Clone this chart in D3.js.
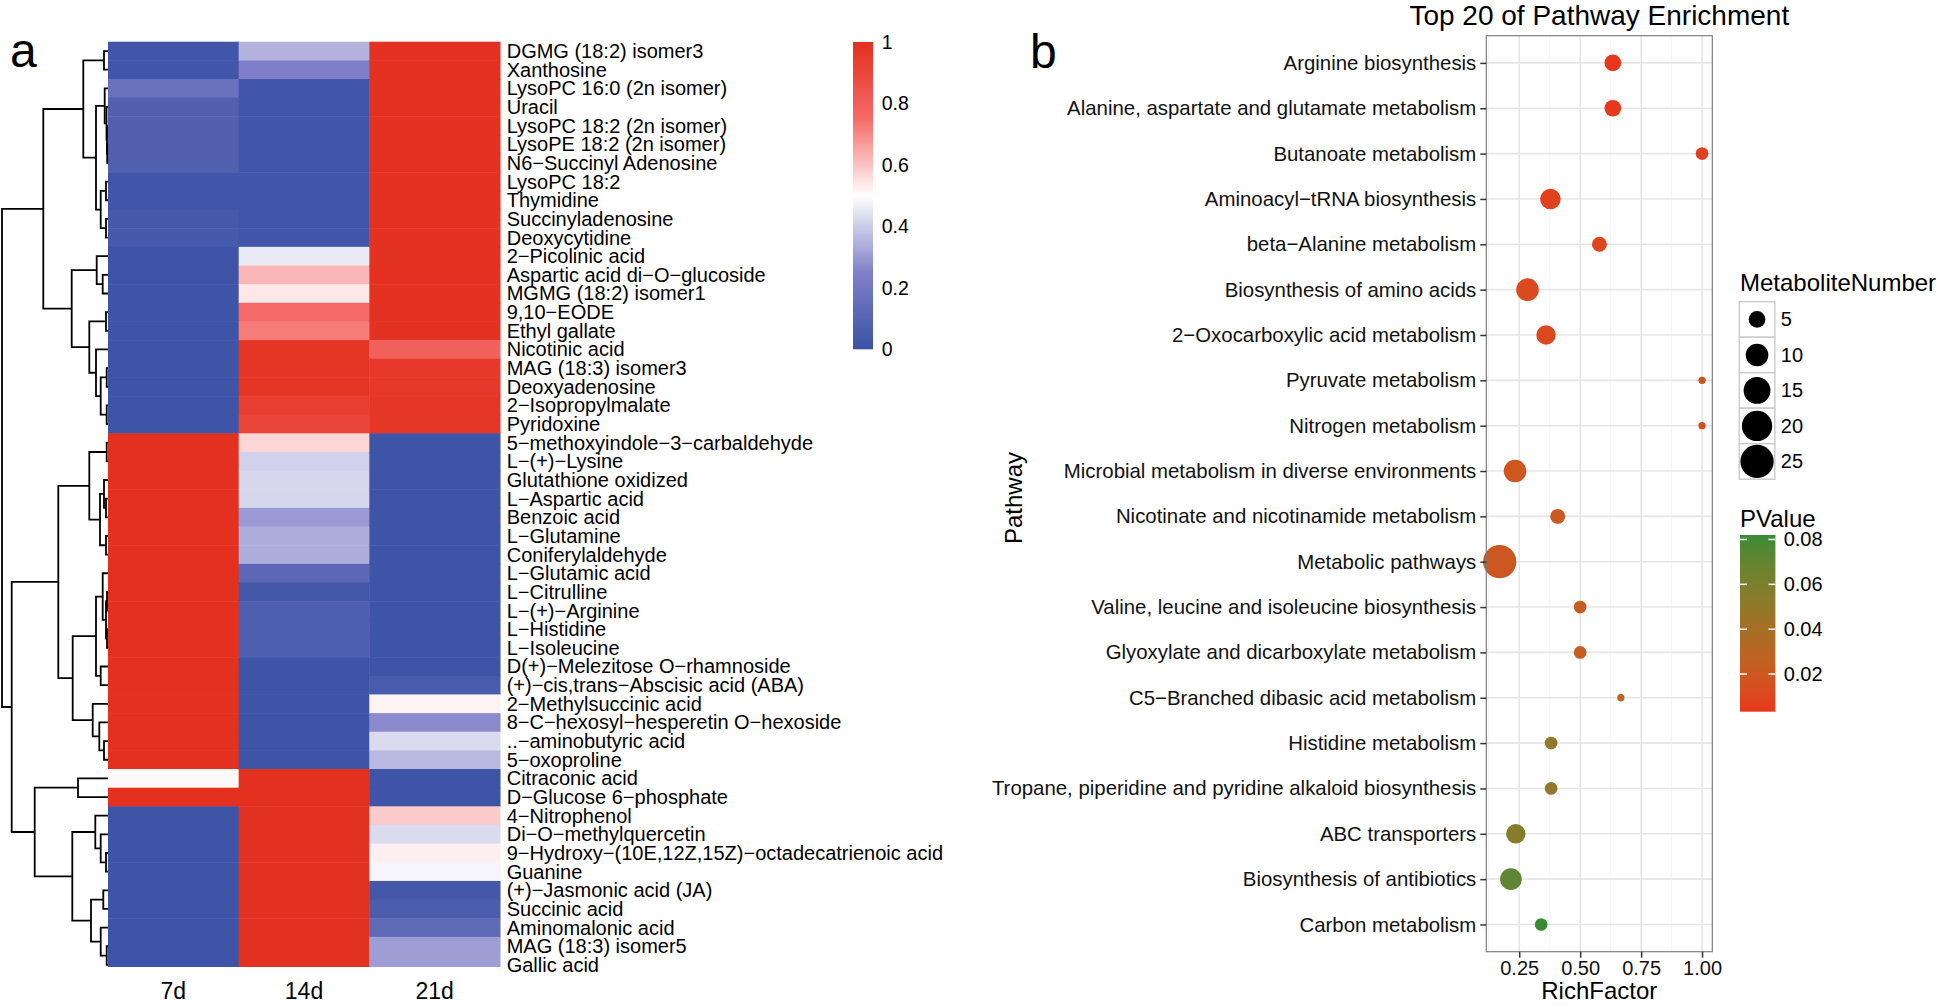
<!DOCTYPE html>
<html>
<head>
<meta charset="utf-8">
<script src="https://cdn.jsdelivr.net/npm/d3@7"></script>
<style>
    body { margin: 0; background: #fff; }
    svg { display: block; font-family: "Liberation Sans", Arial, sans-serif; }
</style>
</head>
<body>
<div id="chart"></div>
<script>

// ---- panel a : heatmap ----
const samples = ["7d", "14d", "21d"];

const metabolites = [
    "DGMG (18:2) isomer3", "Xanthosine", "LysoPC 16:0 (2n isomer)", "Uracil",
    "LysoPC 18:2 (2n isomer)", "LysoPE 18:2 (2n isomer)", "N6−Succinyl Adenosine",
    "LysoPC 18:2", "Thymidine", "Succinyladenosine", "Deoxycytidine",
    "2−Picolinic acid", "Aspartic acid di−O−glucoside", "MGMG (18:2) isomer1",
    "9,10−EODE", "Ethyl gallate", "Nicotinic acid", "MAG (18:3) isomer3",
    "Deoxyadenosine", "2−Isopropylmalate", "Pyridoxine",
    "5−methoxyindole−3−carbaldehyde", "L−(+)−Lysine", "Glutathione oxidized",
    "L−Aspartic acid", "Benzoic acid", "L−Glutamine", "Coniferylaldehyde",
    "L−Glutamic acid", "L−Citrulline", "L−(+)−Arginine", "L−Histidine",
    "L−Isoleucine", "D(+)−Melezitose O−rhamnoside", "(+)−cis,trans−Abscisic acid (ABA)",
    "2−Methylsuccinic acid", "8−C−hexosyl−hesperetin O−hexoside", "..−aminobutyric acid",
    "5−oxoproline", "Citraconic acid", "D−Glucose 6−phosphate", "4−Nitrophenol",
    "Di−O−methylquercetin", "9−Hydroxy−(10E,12Z,15Z)−octadecatrienoic acid", "Guanine",
    "(+)−Jasmonic acid (JA)", "Succinic acid", "Aminomalonic acid", "MAG (18:3) isomer5",
    "Gallic acid"
];

// scaled abundance (0-1), one array per sampling day, same order as metabolites
const values7d = [
    0.02, 0.02, 0.17, 0.08, 0.08, 0.08, 0.08, 0.02, 0.02, 0.04,
    0.04, 0.01, 0.01, 0.01, 0.01, 0.01, 0.01, 0.01, 0.01, 0.01,
    0.01, 1, 1, 1, 1, 1, 1, 1, 1, 1,
    1, 1, 1, 1, 1, 1, 1, 1, 1, 0.51,
    1, 0.01, 0.01, 0.01, 0.01, 0.01, 0.01, 0.01, 0.01, 0.01
];
const values14d = [
    0.35, 0.24, 0.02, 0.02, 0.02, 0.02, 0.02, 0.02, 0.02, 0.02,
    0.02, 0.46, 0.62, 0.54, 0.75, 0.72, 0.98, 0.98, 0.98, 0.94,
    0.91, 0.57, 0.41, 0.42, 0.42, 0.30, 0.34, 0.34, 0.12, 0.03,
    0.07, 0.07, 0.07, 0.01, 0.01, 0.01, 0.01, 0.01, 0.01, 1,
    1, 0.99, 0.99, 0.99, 0.99, 0.99, 0.99, 0.99, 0.99, 0.99
];
const values21d = [
    0.99, 0.99, 0.99, 0.99, 0.99, 0.99, 0.99, 0.99, 0.99, 0.99,
    0.99, 0.99, 0.99, 0.99, 0.99, 0.99, 0.79, 0.96, 0.96, 0.97,
    0.97, 0.01, 0.01, 0.01, 0.01, 0.01, 0.01, 0.01, 0.01, 0.01,
    0.01, 0.01, 0.01, 0.01, 0.05, 0.52, 0.27, 0.43, 0.36, 0.01,
    0.01, 0.585, 0.43, 0.525, 0.48, 0.03, 0.06, 0.13, 0.31, 0.31
];

// row dendrogram: [height, left, right], leaves are row indices
const rowTree =
    [106,
        [64.7,
            [24.7, [4, 0, 1],
                [12, [3.3, 2, [1.5, 3, [1, 4, [0.8, 5, 6]]]],
                    [7.3, [2, 7, 8], [2, 9, 10]]]],
            [36.3, [11.3, 11, [5.3, 12, 13]],
                [18.7, [2, 14, 15], [12, 16, [7.3, [1.3, 17, 18], [1.3, 19, 20]]]]]],
        [96.3,
            [49.7,
                [18.7, [1.3, 21, 22], [8, [4, 23, [2, 24, 25]], [2, 26, 27]]],
                [35.3,
                    [12, [5.3, 28, [2, [1, 29, 30], [1, 31, 32]]], [7.3, 33, 34]],
                    [15.3, 35, [8.7, 36, [4, 37, 38]]]]],
            [73.3, [30, 39, 40],
                [35.7, [12.7, 41, [7.3, 42, [2, 43, 44]]],
                    [17, [4.7, 45, 46], [7.3, 47, [1.3, 48, 49]]]]]]];

const heatLegendTicks = [0, 0.2, 0.4, 0.6, 0.8, 1];

// ---- panel b : pathway enrichment ----
const pathways = [
    "Arginine biosynthesis", "Alanine, aspartate and glutamate metabolism",
    "Butanoate metabolism", "Aminoacyl−tRNA biosynthesis", "beta−Alanine metabolism",
    "Biosynthesis of amino acids", "2−Oxocarboxylic acid metabolism",
    "Pyruvate metabolism", "Nitrogen metabolism",
    "Microbial metabolism in diverse environments",
    "Nicotinate and nicotinamide metabolism", "Metabolic pathways",
    "Valine, leucine and isoleucine biosynthesis",
    "Glyoxylate and dicarboxylate metabolism", "C5−Branched dibasic acid metabolism",
    "Histidine metabolism", "Tropane, piperidine and pyridine alkaloid biosynthesis",
    "ABC transporters", "Biosynthesis of antibiotics", "Carbon metabolism"
];
const richFactor = [0.634, 0.634, 1.0, 0.378, 0.579, 0.284, 0.36, 1.0, 1.0, 0.233,
    0.408, 0.17, 0.5, 0.5, 0.667, 0.381, 0.381, 0.236, 0.216, 0.34];
const metaboliteNumber = [5, 5, 3, 8, 4, 10, 7, 2, 2, 10, 4, 25, 3, 3, 2, 3, 3, 7, 9, 3];
const pValue = [0.0032, 0.0035, 0.006, 0.007, 0.009, 0.011, 0.011, 0.014, 0.014, 0.018,
    0.02, 0.019, 0.023, 0.023, 0.03, 0.05, 0.05, 0.056, 0.072, 0.082];

const richLimits = [0.115, 1.042];
const richTicks = [0.25, 0.5, 0.75, 1.0];
const richMinor = [0.125, 0.375, 0.625, 0.875];
const sizeLegend = [5, 10, 15, 20, 25];
const pLegendTicks = [0.02, 0.04, 0.06, 0.08];


const width = 1941, height = 1006;

const svg = d3.select("#chart").append("svg")
    .attr("width", width)
    .attr("height", height);

svg.append("rect").attr("width", width).attr("height", height).attr("fill", "#fff");

drawHeatmap();
drawEnrichment();


function drawHeatmap() {

    const g = svg.append("g").attr("class", "panel-a");

    const x = d3.scaleBand().domain(samples).range([108, 500]);
    const y = d3.scaleBand().domain(d3.range(metabolites.length)).range([41.7, 974.2]);

    // blue - white - red ramp
    const color = d3.scaleLinear()
        .domain([0, 0.25, 0.5, 0.75, 1])
        .range(["#3b52a5", "#8080c8", "#ffffff", "#f56a68", "#e3301f"]);

    const columns = [values7d, values14d, values21d];
    const cells = [];
    columns.forEach((col, c) => {
        col.forEach((v, r) => cells.push({ sample: samples[c], row: r, value: v }));
    });

    // the last row of the original figure is cut at the bottom
    svg.append("clipPath").attr("id", "heat-clip")
        .append("rect").attr("x", 100).attr("y", 30).attr("width", 410).attr("height", 937);

    g.append("g")
        .attr("clip-path", "url(#heat-clip)")
        .selectAll("rect")
        .data(cells)
        .enter().append("rect")
        .attr("x", d => x(d.sample))
        .attr("y", d => y(d.row))
        .attr("width", x.bandwidth() + 0.5)
        .attr("height", y.bandwidth() + 0.5)
        .attr("fill", d => color(d.value));

    // row labels
    g.append("g").selectAll("text")
        .data(metabolites)
        .enter().append("text")
        .attr("x", 506.7)
        .attr("y", (d, i) => y(i) + y.bandwidth() / 2)
        .attr("dy", "0.35em")
        .attr("font-size", 20)
        .attr("fill", "#000")
        .text(d => d);

    // column labels
    g.append("g").selectAll("text")
        .data(samples)
        .enter().append("text")
        .attr("x", d => x(d) + x.bandwidth() / 2)
        .attr("y", 999)
        .attr("text-anchor", "middle")
        .attr("font-size", 23)
        .text(d => d);

    // dendrogram
    const hx = d3.scaleLinear().domain([0, 106]).range([108, 2]);
    const paths = [];

    function layout(node) {
        if (typeof node === "number") {
            return { y: y(node) + y.bandwidth() / 2, h: 0 };
        }
        const a = layout(node[1]);
        const b = layout(node[2]);
        const xn = hx(node[0]);
        paths.push(`M${hx(a.h)},${a.y}H${xn}V${b.y}H${hx(b.h)}`);
        return { y: (a.y + b.y) / 2, h: node[0] };
    }
    layout(rowTree);

    g.append("g").selectAll("path")
        .data(paths)
        .enter().append("path")
        .attr("d", d => d)
        .attr("fill", "none")
        .attr("stroke", "#000")
        .attr("stroke-width", 1.8);

    // colour legend
    const ly = d3.scaleLinear().domain([0, 1]).range([349.3, 42]);
    const grad = svg.append("defs").append("linearGradient")
        .attr("id", "heat-grad")
        .attr("x1", 0).attr("y1", 1).attr("x2", 0).attr("y2", 0);
    grad.selectAll("stop")
        .data(d3.range(0, 1.001, 0.05))
        .enter().append("stop")
        .attr("offset", d => d)
        .attr("stop-color", d => color(d));

    g.append("rect")
        .attr("x", 853).attr("y", ly(1))
        .attr("width", 20).attr("height", ly(0) - ly(1))
        .attr("fill", "url(#heat-grad)");

    g.append("g").selectAll("text")
        .data(heatLegendTicks)
        .enter().append("text")
        .attr("x", 881.7)
        .attr("y", d => ly(d))
        .attr("dy", "0.35em")
        .attr("font-size", 19.5)
        .text(d => d);

    g.append("text")
        .attr("x", 10).attr("y", 66.7)
        .attr("font-size", 48)
        .text("a");
}


function drawEnrichment() {

    const g = svg.append("g").attr("class", "panel-b");

    const left = 1486.3, right = 1712.3, top = 35.7, bottom = 951.7;

    const x = d3.scaleLinear().domain(richLimits).range([left, right]);
    const y = d3.scalePoint().domain(pathways).range([top, bottom]).padding(0.6);

    const nMin = d3.min(metaboliteNumber), nMax = d3.max(metaboliteNumber);
    const radius = d3.scaleLinear().domain([0, 1]).range([3.65, 16.65]);
    const r = n => radius(Math.sqrt((n - nMin) / (nMax - nMin)));

    const pExtent = d3.extent(pValue);
    const color = d3.scaleLinear()
        .domain(pExtent)
        .range(["#e8371c", "#3a8b37"])
        .interpolate(d3.interpolateLab);

    // grid
    g.append("g").selectAll("line")
        .data(richMinor)
        .enter().append("line")
        .attr("x1", d => x(d)).attr("x2", d => x(d))
        .attr("y1", top).attr("y2", bottom)
        .attr("stroke", "#f2f2f2").attr("stroke-width", 0.8);

    g.append("g").selectAll("line")
        .data(richTicks)
        .enter().append("line")
        .attr("x1", d => x(d)).attr("x2", d => x(d))
        .attr("y1", top).attr("y2", bottom)
        .attr("stroke", "#e6e6e6").attr("stroke-width", 1.6);

    g.append("g").selectAll("line")
        .data(pathways)
        .enter().append("line")
        .attr("x1", left).attr("x2", right)
        .attr("y1", d => y(d)).attr("y2", d => y(d))
        .attr("stroke", "#e6e6e6").attr("stroke-width", 1.6);

    // points
    const points = pathways.map((p, i) => ({
        pathway: p, rich: richFactor[i], n: metaboliteNumber[i], p: pValue[i]
    }));

    g.append("g").selectAll("circle")
        .data(points)
        .enter().append("circle")
        .attr("cx", d => x(d.rich))
        .attr("cy", d => y(d.pathway))
        .attr("r", d => r(d.n))
        .attr("fill", d => color(d.p));

    g.append("rect")
        .attr("x", left).attr("y", top)
        .attr("width", right - left).attr("height", bottom - top)
        .attr("fill", "none")
        .attr("stroke", "#7f7f7f")
        .attr("stroke-width", 1.2);

    // axes
    const yAxis = g.append("g")
        .attr("transform", `translate(${left},0)`)
        .call(d3.axisLeft(y).tickSize(6).tickPadding(4));
    yAxis.select(".domain").remove();
    yAxis.selectAll("line").attr("stroke", "#333").attr("stroke-width", 1.5);
    yAxis.selectAll("text")
        .attr("font-size", 20.4)
        .attr("font-family", "Liberation Sans, Arial, sans-serif")
        .attr("fill", "#111");

    const xAxis = g.append("g")
        .attr("transform", `translate(0,${bottom})`)
        .call(d3.axisBottom(x).tickValues(richTicks).tickFormat(d3.format(".2f")).tickSize(6).tickPadding(3));
    xAxis.select(".domain").remove();
    xAxis.selectAll("line").attr("stroke", "#333").attr("stroke-width", 1.5);
    xAxis.selectAll("text")
        .attr("font-size", 20)
        .attr("font-family", "Liberation Sans, Arial, sans-serif")
        .attr("fill", "#111");

    g.append("text")
        .attr("x", (left + right) / 2).attr("y", 999)
        .attr("text-anchor", "middle")
        .attr("font-size", 24)
        .text("RichFactor");

    g.append("text")
        .attr("transform", "translate(1013.4,498) rotate(-90)")
        .attr("text-anchor", "middle")
        .attr("dy", "0.35em")
        .attr("font-size", 24)
        .text("Pathway");

    g.append("text")
        .attr("x", (left + right) / 2).attr("y", 25)
        .attr("text-anchor", "middle")
        .attr("font-size", 28)
        .text("Top 20 of Pathway Enrichment");

    g.append("text")
        .attr("x", 1030).attr("y", 68)
        .attr("font-size", 48)
        .text("b");

    // size legend
    const lx = 1739.3, key = 35.5, keyTop = 301.7;
    g.append("text")
        .attr("x", 1740).attr("y", 290.7)
        .attr("font-size", 24)
        .text("MetaboliteNumber");

    const keys = g.append("g").selectAll("g")
        .data(sizeLegend)
        .enter().append("g")
        .attr("transform", (d, i) => `translate(${lx},${keyTop + i * key})`);

    keys.append("rect")
        .attr("width", key).attr("height", key)
        .attr("fill", "#fff")
        .attr("stroke", "#cccccc")
        .attr("stroke-width", 1.5);

    keys.append("circle")
        .attr("cx", key / 2).attr("cy", key / 2)
        .attr("r", d => r(d))
        .attr("fill", "#000");

    keys.append("text")
        .attr("x", key + 6).attr("y", key / 2)
        .attr("dy", "0.35em")
        .attr("font-size", 20)
        .text(d => d);

    // p-value colour bar
    const py = d3.scaleLinear().domain(pExtent).range([711.7, 535]);
    const barX = 1740, barW = 35.4;

    g.append("text")
        .attr("x", 1740).attr("y", 526.7)
        .attr("font-size", 24)
        .text("PValue");

    const grad = svg.select("defs").append("linearGradient")
        .attr("id", "p-grad")
        .attr("x1", 0).attr("y1", 1).attr("x2", 0).attr("y2", 0);
    grad.selectAll("stop")
        .data(d3.range(0, 1.001, 0.1))
        .enter().append("stop")
        .attr("offset", d => d)
        .attr("stop-color", d => color(pExtent[0] + d * (pExtent[1] - pExtent[0])));

    g.append("rect")
        .attr("x", barX).attr("y", py(pExtent[1]))
        .attr("width", barW).attr("height", py(pExtent[0]) - py(pExtent[1]))
        .attr("fill", "url(#p-grad)");

    const pt = g.append("g").selectAll("g")
        .data(pLegendTicks)
        .enter().append("g")
        .attr("transform", d => `translate(0,${py(d)})`);

    pt.append("line")
        .attr("x1", barX).attr("x2", barX + 7)
        .attr("stroke", "#fff").attr("stroke-width", 1.5);
    pt.append("line")
        .attr("x1", barX + barW - 7).attr("x2", barX + barW)
        .attr("stroke", "#fff").attr("stroke-width", 1.5);
    pt.append("text")
        .attr("x", 1783.7)
        .attr("dy", "0.35em")
        .attr("font-size", 20)
        .text(d => d.toFixed(2));
}

</script>
</body>
</html>
